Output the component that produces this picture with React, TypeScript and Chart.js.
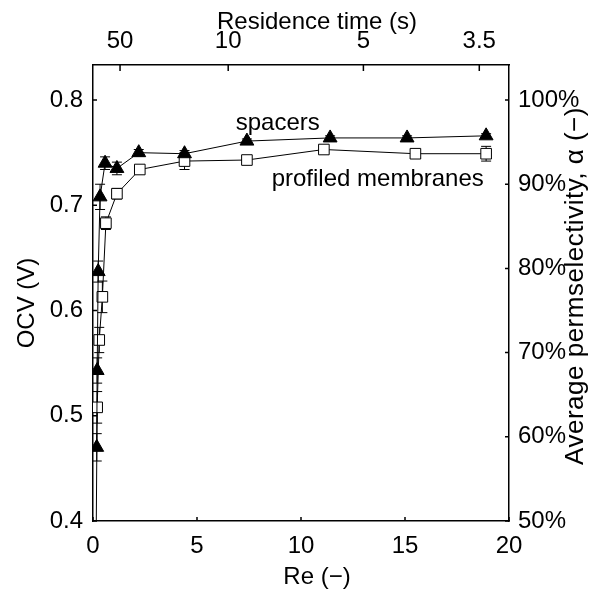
import React, { useEffect, useRef } from 'react';
import { Chart, registerables } from 'chart.js';

Chart.register(...registerables);

// ---- data ----
const spacersRe = [0.18, 0.2, 0.25, 0.34, 0.58, 1.15, 2.2, 4.4, 7.4, 11.4, 15.1, 18.9];
const spacersOCV = [0.47, 0.543, 0.637, 0.708, 0.740, 0.735, 0.750, 0.749, 0.761, 0.764, 0.764, 0.766];
const spacersErr = [0.013, 0.012, 0.010, 0.012, 0.006, 0.006, 0.003, 0.003, 0.002, 0.002, 0.002, 0.002];

const membranesRe = [0.12, 0.2, 0.3, 0.45, 0.62, 1.15, 2.25, 4.4, 7.4, 11.1, 15.5, 18.9];
const membranesOCV = [0.30, 0.508, 0.572, 0.613, 0.683, 0.711, 0.734, 0.742, 0.743, 0.753, 0.749, 0.749];
const membranesErr = [0, 0.015, 0.012, 0.015, 0.006, 0.005, 0.003, 0.008, 0.002, 0.003, 0.004, 0.007];

const reTicks = [0, 5, 10, 15, 20];
const ocvTicks = [0.4, 0.5, 0.6, 0.7, 0.8];
const permTicks = [50, 60, 70, 80, 90, 100];
const residenceTimes = [50, 10, 5, 3.5];
const residenceLabels = ['50', '10', '5', '3.5'];
const RE_TIME_PRODUCT = 65; // Re * residence time (s)

const FONT = "'Liberation Sans', Arial, Helvetica, sans-serif";

export default function App() {
  const ref = useRef<HTMLCanvasElement>(null);

  useEffect(() => {
    const canvas = ref.current!;
    const yMin = 0.4;
    const yMax = 0.8333;
    const toPerm = (v: number) => 50 + ((v - 0.4) / 0.4) * 50;
    const setTicks = (vals: number[]) => (scale: any) => {
      scale.ticks = vals.map((v) => ({ value: v }));
    };
    const fitW = (w: number) => (scale: any) => { scale.width = w; };
    const fitH = (h: number) => (scale: any) => { scale.height = h; };
    const tickFont = { family: FONT, size: 24 };

    const plugin = {
      id: 'custom',
      beforeDatasetsDraw(chart: any) {
        const ctx = chart.ctx;
        const { left, right, top, bottom } = chart.chartArea;
        const xs = chart.scales.x;
        const ys = chart.scales.y;
        ctx.save();
        ctx.beginPath();
        ctx.rect(left, top, right - left, bottom - top);
        ctx.clip();
        ctx.strokeStyle = '#000';
        ctx.lineWidth = 1;
        const series: [number[], number[], number[]][] = [
          [spacersRe, spacersOCV, spacersErr],
          [membranesRe, membranesOCV, membranesErr],
        ];
        series.forEach(([re, v, e]) => {
          re.forEach((r, i) => {
            if (!e[i]) return;
            const px = xs.getPixelForValue(r);
            const y1 = ys.getPixelForValue(v[i] - e[i]);
            const y2 = ys.getPixelForValue(v[i] + e[i]);
            ctx.beginPath();
            ctx.moveTo(px, y1);
            ctx.lineTo(px, y2);
            ctx.moveTo(px - 5, y1);
            ctx.lineTo(px + 5, y1);
            ctx.moveTo(px - 5, y2);
            ctx.lineTo(px + 5, y2);
            ctx.stroke();
          });
        });
        ctx.restore();
      },
      afterDraw(chart: any) {
        const ctx = chart.ctx;
        const { left, right, top, bottom } = chart.chartArea;
        const xs = chart.scales.x;
        const xt = chart.scales.xTop;
        const ys = chart.scales.y;
        const yr = chart.scales.yRight;
        ctx.save();
        ctx.strokeStyle = '#000';
        ctx.lineWidth = 1.5;
        ctx.beginPath();
        xs.ticks.forEach((t: any) => {
          const p = xs.getPixelForValue(t.value);
          ctx.moveTo(p, bottom);
          ctx.lineTo(p, bottom - 4);
        });
        xt.ticks.forEach((t: any) => {
          const p = xt.getPixelForValue(t.value);
          ctx.moveTo(p, top);
          ctx.lineTo(p, top + 6);
        });
        ys.ticks.forEach((t: any) => {
          const p = ys.getPixelForValue(t.value);
          ctx.moveTo(left, p);
          ctx.lineTo(left + 4, p);
        });
        yr.ticks.forEach((t: any) => {
          const p = yr.getPixelForValue(t.value);
          ctx.moveTo(right, p);
          ctx.lineTo(right - 4, p);
        });
        ctx.stroke();

        ctx.fillStyle = '#000';
        ctx.font = `24px ${FONT}`;

        // series labels
        ctx.textAlign = 'left';
        ctx.textBaseline = 'alphabetic';
        ctx.fillText('spacers', xs.getPixelForValue(6.86), ys.getPixelForValue(0.7715));
        ctx.fillText('profiled membranes', xs.getPixelForValue(8.59), ys.getPixelForValue(0.718));

        // axis titles
        ctx.textAlign = 'center';
        ctx.textBaseline = 'middle';
        ctx.fillText('Re (\u2212)', 317, 577);
        ctx.fillText('Residence time (s)', 317, 22);

        ctx.save();
        ctx.translate(27, 303);
        ctx.rotate(-Math.PI / 2);
        ctx.fillText('OCV (V)', 0, 0);
        ctx.restore();

        ctx.save();
        ctx.translate(576, 286);
        ctx.rotate(-Math.PI / 2);
        ctx.font = `26px ${FONT}`;
        try { (ctx as any).letterSpacing = '0.5px'; } catch (e) { /* ignore */ }
        ctx.fillText('Average permselectivity, \u03b1 (\u2212)', 0, 0);
        ctx.restore();

        ctx.restore();
      },
    };

    const chart = new Chart(canvas, {
      type: 'line',
      data: {
        datasets: [
          {
            label: 'spacers',
            data: spacersRe.map((r, i) => ({ x: r, y: spacersOCV[i] })),
            borderColor: '#000',
            borderWidth: 1,
            backgroundColor: '#000',
            pointStyle: 'triangle',
            pointRadius: 8,
            pointBorderWidth: 1,
            pointBackgroundColor: '#000',
            pointBorderColor: '#000',
            tension: 0,
            xAxisID: 'x',
            yAxisID: 'y',
          },
          {
            label: 'profiled membranes',
            data: membranesRe.map((r, i) => ({ x: r, y: membranesOCV[i] })),
            borderColor: '#000',
            borderWidth: 1,
            backgroundColor: '#fff',
            pointStyle: 'rect',
            pointRadius: 7.5,
            pointBorderWidth: 1,
            pointBackgroundColor: '#fff',
            pointBorderColor: '#000',
            tension: 0,
            xAxisID: 'x',
            yAxisID: 'y',
          },
        ],
      },
      options: {
        responsive: false,
        animation: false,
        events: [],
        layout: { padding: 0 },
        plugins: { legend: { display: false }, tooltip: { enabled: false } },
        scales: {
          x: {
            type: 'linear',
            position: 'bottom',
            min: 0,
            max: 20,
            afterBuildTicks: setTicks(reTicks),
            afterFit: fitH(68),
            grid: { display: false, drawTicks: false },
            border: { display: true, color: '#000', width: 1.5 },
            ticks: { font: tickFont, color: '#000', padding: 11, autoSkip: false, maxRotation: 0, callback: (v: any) => String(v) },
            title: { display: false },
          },
          xTop: {
            type: 'linear',
            position: 'top',
            min: 0,
            max: 20,
            afterBuildTicks: (scale: any) => {
              scale.ticks = residenceTimes.map((t) => ({ value: RE_TIME_PRODUCT / t }));
            },
            afterFit: fitH(65),
            grid: { display: false, drawTicks: false },
            border: { display: true, color: '#000', width: 1.5 },
            ticks: { font: tickFont, color: '#000', padding: 9, autoSkip: false, maxRotation: 0, callback: (_v: any, i: number) => residenceLabels[i] },
            title: { display: false },
          },
          y: {
            type: 'linear',
            position: 'left',
            min: yMin,
            max: yMax,
            afterBuildTicks: setTicks(ocvTicks),
            afterFit: fitW(93),
            grid: { display: false, drawTicks: false },
            border: { display: true, color: '#000', width: 1.5 },
            ticks: { font: tickFont, color: '#000', padding: 10, callback: (v: any) => Number(v).toFixed(1) },
            title: { display: false },
          },
          yRight: {
            type: 'linear',
            position: 'right',
            min: toPerm(yMin),
            max: toPerm(yMax),
            afterBuildTicks: setTicks(permTicks),
            afterFit: fitW(96),
            grid: { display: false, drawTicks: false },
            border: { display: true, color: '#000', width: 1.5 },
            ticks: { font: tickFont, color: '#000', padding: 9, callback: (v: any) => `${v}%` },
            title: { display: false },
          },
        },
      },
      plugins: [plugin],
    } as any);

    return () => chart.destroy();
  }, []);

  return (
    <div style={{ position: 'absolute', left: 0, top: 0, width: 605, height: 589, background: '#fff' }}>
      <canvas ref={ref} width={605} height={589} style={{ display: 'block' }} />
    </div>
  );
}
